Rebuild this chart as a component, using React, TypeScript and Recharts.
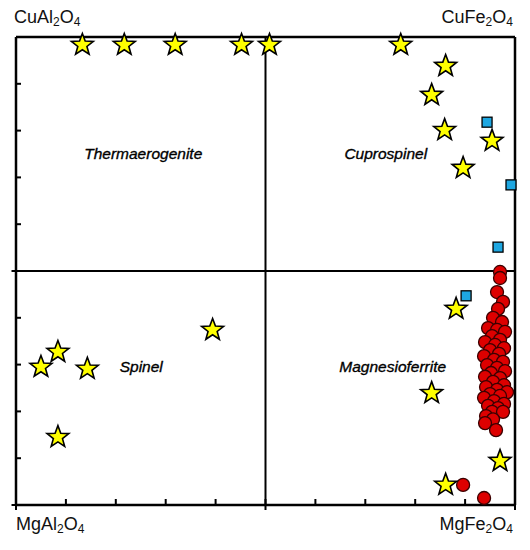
import {
  ScatterChart,
  Scatter,
  XAxis,
  YAxis,
  ReferenceLine,
  ReferenceDot,
} from "recharts";

// x = Fe/(Fe+Al), y = Cu/(Cu+Mg)
const starX = [0.133, 0.217, 0.319, 0.452, 0.508, 0.771, 0.861, 0.833, 0.859, 0.954, 0.896, 0.882, 0.394, 0.084, 0.050, 0.143, 0.833, 0.084, 0.970, 0.861];
const starY = [0.983, 0.983, 0.983, 0.983, 0.983, 0.983, 0.938, 0.876, 0.801, 0.778, 0.720, 0.419, 0.374, 0.327, 0.295, 0.291, 0.239, 0.145, 0.094, 0.043];

const squareX = [0.944, 0.992, 0.966, 0.902];
const squareY = [0.818, 0.684, 0.551, 0.447];

const circleX = [
  0.970, 0.970, 0.964, 0.976, 0.966, 0.956, 0.974, 0.946, 0.964, 0.980,
  0.954, 0.970, 0.940, 0.960, 0.978, 0.950, 0.968, 0.938, 0.958, 0.976,
  0.944, 0.964, 0.980, 0.952, 0.940, 0.970, 0.956, 0.978, 0.942, 0.964,
  0.984, 0.950, 0.970, 0.938, 0.958, 0.978, 0.946, 0.966, 0.954, 0.976,
  0.942, 0.956, 0.940, 0.962, 0.896, 0.938,
];
const circleY = [
  0.498, 0.485, 0.455, 0.434, 0.419, 0.400, 0.391, 0.378, 0.374, 0.370,
  0.361, 0.353, 0.348, 0.342, 0.335, 0.331, 0.323, 0.318, 0.310, 0.306,
  0.299, 0.293, 0.286, 0.282, 0.274, 0.271, 0.263, 0.256, 0.252, 0.246,
  0.241, 0.237, 0.233, 0.229, 0.222, 0.216, 0.212, 0.207, 0.199, 0.199,
  0.190, 0.183, 0.175, 0.160, 0.043, 0.015,
];

const ticks = [0, 0.1, 0.2, 0.3, 0.4, 0.5, 0.6, 0.7, 0.8, 0.9, 1];
// positions where the tick also pokes out of the frame
const xMajor = [0, 0.5, 1];
const yMajor = [0, 0.5];

const fieldNames = ["Thermaerogenite", "Cuprospinel", "Spinel", "Magnesioferrite"];
const fieldX = [0.255, 0.741, 0.251, 0.755];
const fieldY = [0.752, 0.752, 0.295, 0.295];

const stars = starX.map((x, i) => ({ x, y: starY[i] }));
const squares = squareX.map((x, i) => ({ x, y: squareY[i] }));
const circles = circleX.map((x, i) => ({ x, y: circleY[i] }));
const bottomTicks = ticks.map((t) => ({ x: t, y: 0, major: xMajor.includes(t) }));

const font = "'Liberation Sans', Arial, sans-serif";

function StarShape(props: any) {
  const { cx, cy } = props;
  const pts: string[] = [];
  for (let i = 0; i < 10; i++) {
    const r = i % 2 === 0 ? 11.5 : 4.8;
    const a = -Math.PI / 2 + (i * Math.PI) / 5;
    pts.push(`${cx + r * Math.cos(a)},${cy + r * Math.sin(a)}`);
  }
  return (
    <polygon
      points={pts.join(" ")}
      fill="#ffff00"
      stroke="#000"
      strokeWidth={1.6}
      strokeLinejoin="miter"
    />
  );
}

function SquareShape(props: any) {
  const { cx, cy } = props;
  return (
    <rect
      x={cx - 5}
      y={cy - 5}
      width={10}
      height={10}
      fill="#1ea7e1"
      stroke="#000"
      strokeWidth={1.3}
    />
  );
}

function CircleShape(props: any) {
  const { cx, cy } = props;
  return (
    <circle cx={cx} cy={cy} r={6.5} fill="#dd0000" stroke="#3a0000" strokeWidth={1.3} />
  );
}

// bottom axis tick mark, inward, majors also poke below the frame
function TickMark(props: any) {
  const { cx, cy, payload } = props;
  const below = payload && payload.major ? 5 : 0;
  return (
    <rect x={cx - 1} y={cy - 6} width={2} height={6 + below} fill="#000" />
  );
}

// axis tick labels are not drawn, only the inward tick marks
function NoLabel() {
  return <g />;
}

const corner = {
  position: "absolute" as const,
  fontFamily: font,
  fontSize: 18,
  color: "#111",
  lineHeight: "20px",
};

function Formula({ a, b }: { a: string; b: string }) {
  return (
    <span>
      {a}
      <sub style={{ fontSize: 12, verticalAlign: -3 }}>2</sub>
      {b}
      <sub style={{ fontSize: 12, verticalAlign: -3 }}>4</sub>
    </span>
  );
}

export default function App() {
  return (
    <div style={{ position: "relative", width: 530, height: 550, background: "#fff" }}>
      <style>{`body{margin:0}`}</style>
      <ScatterChart
        width={530}
        height={550}
        margin={{ top: 37, right: 15, bottom: 40, left: 16 }}
      >
        <XAxis
          type="number"
          dataKey="x"
          domain={[0, 1]}
          ticks={ticks}
          tick={NoLabel}
          tickLine={false}
          height={5}
          axisLine={{ stroke: "#000", strokeWidth: 2.5 }}
        />
        <YAxis
          type="number"
          dataKey="y"
          domain={[0, 1]}
          ticks={ticks}
          interval={0}
          tick={NoLabel}
          mirror
          tickSize={5}
          width={1}
          axisLine={{ stroke: "#000", strokeWidth: 2.5 }}
          tickLine={{ stroke: "#000", strokeWidth: 2 }}
        />
        <ReferenceLine x={0.5} stroke="#000" strokeWidth={2} />
        <ReferenceLine y={0.5} stroke="#000" strokeWidth={2} />
        <ReferenceLine x={1} stroke="#000" strokeWidth={2.5} />
        <ReferenceLine y={1} stroke="#000" strokeWidth={2.5} />
        {yMajor.map((t) => (
          <ReferenceLine
            key={`ym${t}`}
            segment={[{ x: 0, y: t }, { x: -0.009, y: t }]}
            stroke="#000"
            strokeWidth={2}
            ifOverflow="visible"
          />
        ))}
        {fieldNames.map((name, i) => (
          <ReferenceDot
            key={name}
            x={fieldX[i]}
            y={fieldY[i]}
            r={0}
            stroke="none"
            label={{
              value: name,
              position: "center",
              fill: "#000",
              stroke: "#000",
              strokeWidth: 0.35,
              fontSize: 15.5,
              fontStyle: "italic",
              fontFamily: font,
            }}
          />
        ))}
        <Scatter data={bottomTicks} shape={TickMark} isAnimationActive={false} />
        <Scatter data={circles} shape={CircleShape} isAnimationActive={false} />
        <Scatter data={squares} shape={SquareShape} isAnimationActive={false} />
        <Scatter data={stars} shape={StarShape} isAnimationActive={false} />
      </ScatterChart>
      <div style={{ ...corner, left: 14, top: 7 }}>
        <Formula a="CuAl" b="O" />
      </div>
      <div style={{ ...corner, right: 17, top: 7 }}>
        <Formula a="CuFe" b="O" />
      </div>
      <div style={{ ...corner, left: 16, top: 514 }}>
        <Formula a="MgAl" b="O" />
      </div>
      <div style={{ ...corner, right: 17, top: 514 }}>
        <Formula a="MgFe" b="O" />
      </div>
    </div>
  );
}
